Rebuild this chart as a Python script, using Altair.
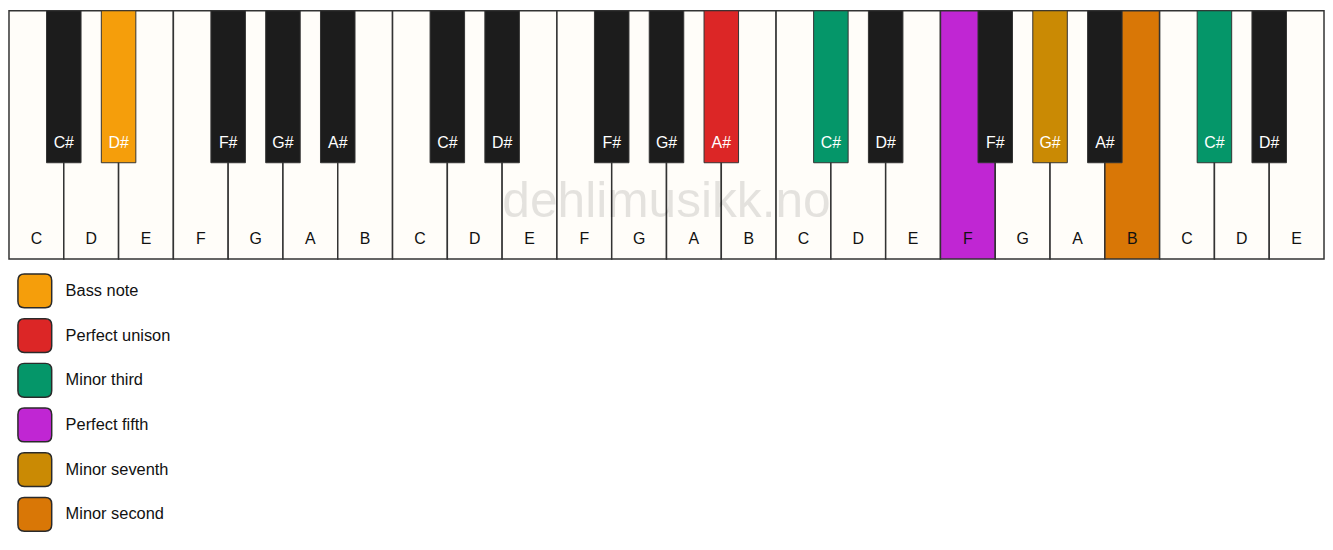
import altair as alt
import pandas as pd

# keyboard: three octaves plus C-D-E
white_names = ["C", "D", "E", "F", "G", "A", "B"] * 3 + ["C", "D", "E"]
# black key name and the white-key index it sits after
black_names = (["C#", "D#", "F#", "G#", "A#"] * 3) + ["C#", "D#"]
black_after = [0, 1, 3, 4, 5, 7, 8, 10, 11, 12, 14, 15, 17, 18, 19, 21, 22]

# highlighted keys: (kind, key index) -> interval
hl_keys = [("black", 1), ("black", 9), ("black", 10), ("white", 17),
           ("black", 13), ("white", 20), ("black", 15)]
hl_roles = ["Bass note", "Perfect unison", "Minor third", "Perfect fifth",
            "Minor seventh", "Minor second", "Minor third"]

intervals = ["Bass note", "Perfect unison", "Minor third", "Perfect fifth",
             "Minor seventh", "Minor second"]
interval_colors = ["#F59E0B", "#DC2626", "#059669", "#C026D3", "#CA8A04", "#D97706"]

KEY_LEN = 250
BLACK_LEN = 153
BLACK_W = 0.63

hl = {k: r for k, r in zip(hl_keys, hl_roles)}

white = pd.DataFrame({
    "name": white_names,
    "x0": range(len(white_names)),
})
white["x1"] = white["x0"] + 1
white["xm"] = white["x0"] + 0.5
white["y0"] = 0
white["y1"] = KEY_LEN
white["ly"] = KEY_LEN - 20
white["role"] = [hl.get(("white", i), "white") for i in white["x0"]]

black = pd.DataFrame({"name": black_names, "after": black_after})
black["xm"] = black["after"] + 1
black["x0"] = black["xm"] - BLACK_W / 2
black["x1"] = black["xm"] + BLACK_W / 2
black["y0"] = 0
black["y1"] = BLACK_LEN
black["ly"] = BLACK_LEN - 20
black["role"] = [hl.get(("black", i), "black") for i in range(len(black))]

x = alt.X("x0:Q", scale=alt.Scale(domain=[0, len(white_names)], nice=False, zero=False), axis=None)
y = alt.Y("y0:Q", scale=alt.Scale(domain=[0, KEY_LEN], reverse=True, nice=False), axis=None)

rounded = ("M -0.62,-1 L 0.62,-1 Q 1,-1 1,-0.62 L 1,0.62 Q 1,1 0.62,1 "
           "L -0.62,1 Q -1,1 -1,0.62 L -1,-0.62 Q -1,-1 -0.62,-1 Z")

fill = alt.Fill(
    "role:N",
    scale=alt.Scale(domain=["white", "black"] + intervals,
                    range=["#FFFDF9", "#1C1C1C"] + interval_colors),
    legend=alt.Legend(
        values=intervals, title=None, orient="none", legendX=8, legendY=264,
        padding=0, symbolType=rounded, symbolSize=1156, symbolOpacity=1,
        symbolStrokeColor="#2a2a2a", symbolStrokeWidth=1.5,
        labelFont="Liberation Sans", labelFontSize=16.5, labelColor="#111",
        labelOffset=13, rowPadding=5, labelLimit=400,
    ),
)

white_keys = alt.Chart(white).mark_rect(stroke="#333", strokeWidth=1.5).encode(
    x=x, x2="x1:Q", y=y, y2="y1:Q", fill=fill
)
black_keys = alt.Chart(black).mark_rect(stroke="#333", strokeWidth=1).encode(
    x=x, x2="x1:Q", y=y, y2="y1:Q", fill=fill
)
white_text = alt.Chart(white).mark_text(
    font="Liberation Sans", fontSize=16, color="#111", baseline="middle"
).encode(x="xm:Q", y="ly:Q", text="name:N")
black_text = alt.Chart(black).mark_text(
    font="Liberation Sans", fontSize=16, color="#fff", baseline="middle"
).encode(x="xm:Q", y="ly:Q", text="name:N")

watermark = alt.Chart(pd.DataFrame({"t": ["dehlimusikk.no"], "xm": [12], "ly": [193]})).mark_text(
    font="Liberation Sans", fontSize=50, color="#000", opacity=0.1, baseline="middle"
).encode(x="xm:Q", y="ly:Q", text="t:N")

chart = (
    alt.layer(white_keys, black_keys, white_text, black_text, watermark)
    .properties(width=1324, height=KEY_LEN, padding=0, background="#ffffff")
    .configure_view(stroke=None)
)

chart.save("out.html", embed_options={"renderer": "svg", "actions": False})
